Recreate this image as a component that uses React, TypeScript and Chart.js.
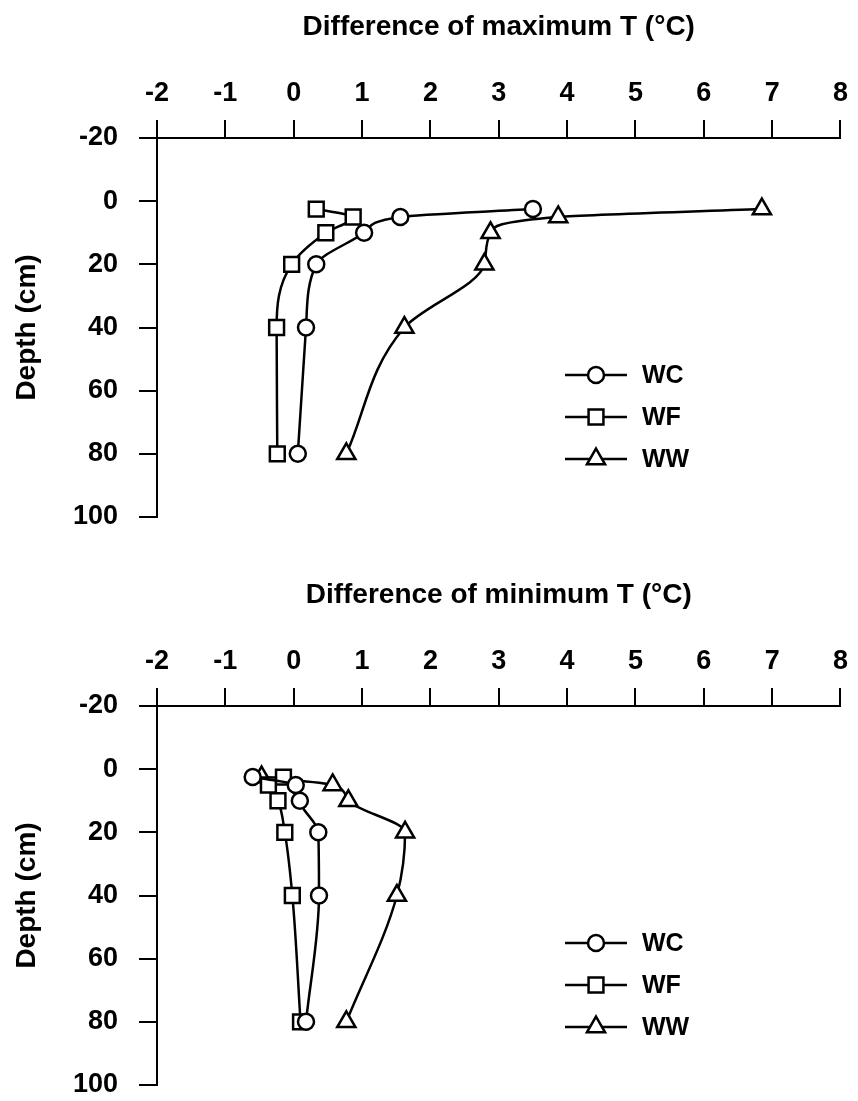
import React, { useEffect, useRef } from "react";
import { Chart, registerables } from "chart.js";

Chart.register(...registerables);

// ---- data ----
const depths = [2.5, 5, 10, 20, 40, 80];
const seriesNames = ["WC", "WF", "WW"];

const maxWC = [3.5, 1.56, 1.03, 0.33, 0.18, 0.06];
const maxWF = [0.33, 0.87, 0.47, -0.03, -0.25, -0.24];
const maxWW = [6.85, 3.87, 2.88, 2.79, 1.62, 0.77];

const minWC = [-0.6, 0.03, 0.09, 0.36, 0.37, 0.18];
const minWF = [-0.15, -0.37, -0.23, -0.13, -0.02, 0.1];
const minWW = [-0.47, 0.57, 0.8, 1.63, 1.51, 0.77];

const xTickMin = -2;
const xTickMax = 8;
const yTickMin = -20;
const yTickMax = 100;

const topTitle = "Difference of maximum T (\u00B0C)";
const bottomTitle = "Difference of minimum T (\u00B0C)";
const yTitle = "Depth (cm)";

const FONT = "'Liberation Sans', Arial, Helvetica, sans-serif";
const LW = 2.5;

function drawMarker(ctx: CanvasRenderingContext2D, style: string, r: number, x: number, y: number) {
  ctx.beginPath();
  if (style === "circle") {
    ctx.arc(x, y, r, 0, Math.PI * 2);
  } else if (style === "rect") {
    const s = Math.SQRT1_2 * r;
    ctx.rect(x - s, y - s, 2 * s, 2 * s);
  } else {
    const h = r;
    ctx.moveTo(x, y - h);
    ctx.lineTo(x + Math.cos(Math.PI / 6) * h, y + h / 2);
    ctx.lineTo(x - Math.cos(Math.PI / 6) * h, y + h / 2);
    ctx.closePath();
  }
  ctx.fillStyle = "#fff";
  ctx.fill();
  ctx.lineWidth = LW;
  ctx.strokeStyle = "#000";
  ctx.stroke();
}

const legendPlugin = {
  id: "insideLegend",
  afterDatasetsDraw(chart: any) {
    const ctx = chart.ctx as CanvasRenderingContext2D;
    const x0 = 565;
    const lineLen = 62;
    const y0 = 375;
    const dy = 42;
    chart.data.datasets.forEach((ds: any, i: number) => {
      const y = y0 + i * dy;
      ctx.save();
      ctx.strokeStyle = "#000";
      ctx.lineWidth = LW;
      ctx.beginPath();
      ctx.moveTo(x0, y);
      ctx.lineTo(x0 + lineLen, y);
      ctx.stroke();
      drawMarker(ctx, ds.pointStyle, ds.pointRadius, x0 + lineLen / 2, y);
      ctx.fillStyle = "#000";
      ctx.font = `bold 25px ${FONT}`;
      ctx.textAlign = "left";
      ctx.textBaseline = "middle";
      ctx.fillText(ds.label, x0 + lineLen + 15, y + 1);
      ctx.restore();
    });
  },
};

function makeConfig(title: string, wc: number[], wf: number[], ww: number[], padBottom: number): any {
  const styles = ["circle", "rect", "triangle"];
  const radii = [8, 10.5, 10.5];
  const vals = [wc, wf, ww];
  const datasets = seriesNames.map((name, k) => ({
    label: name,
    data: depths.map((d, i) => ({ x: vals[k][i], y: d })),
    pointStyle: styles[k],
    pointRadius: radii[k],
    pointHoverRadius: radii[k],
    pointBackgroundColor: "#fff",
    pointBorderColor: "#000",
    pointBorderWidth: LW,
    borderColor: "#000",
    backgroundColor: "#fff",
    borderWidth: LW,
    fill: false,
    cubicInterpolationMode: "monotone",
  }));
  const tickFont = { size: 27, weight: "bold", family: FONT };
  const titleFont = { size: 28, weight: "bold", family: FONT };
  return {
    type: "line",
    data: { datasets },
    options: {
      responsive: false,
      animation: false,
      indexAxis: "y",
      layout: { padding: { left: 0, top: 0, right: 12, bottom: padBottom } },
      plugins: { legend: { display: false }, tooltip: { enabled: false }, title: { display: false } },
      scales: {
        x: {
          type: "linear",
          position: "top",
          min: xTickMin,
          max: xTickMax,
          ticks: { stepSize: 1, color: "#000", font: tickFont, padding: 10, maxRotation: 0, autoSkip: false },
          grid: { display: true, drawOnChartArea: false, drawTicks: true, tickLength: 18, color: "#000", lineWidth: 2 },
          border: { display: true, color: "#000", width: 2 },
          title: { display: true, text: title, color: "#000", font: titleFont, padding: { top: 10, bottom: 0 } },
          afterFit: (s: any) => {
            s.height = 138;
          },
        },
        y: {
          type: "linear",
          reverse: true,
          min: yTickMin,
          max: yTickMax,
          ticks: { stepSize: 20, color: "#000", font: tickFont, padding: 21, autoSkip: false },
          grid: { display: true, drawOnChartArea: false, drawTicks: true, tickLength: 18, color: "#000", lineWidth: 2 },
          border: { display: true, color: "#000", width: 2 },
          title: { display: true, text: yTitle, color: "#000", font: titleFont, padding: { top: 10, bottom: 0 } },
          afterFit: (s: any) => {
            s.width = 157;
          },
        },
      },
    },
    plugins: [legendPlugin],
  };
}

function Panel(props: { top: number; height: number; title: string; wc: number[]; wf: number[]; ww: number[]; padBottom: number }) {
  const ref = useRef<HTMLCanvasElement | null>(null);
  useEffect(() => {
    if (!ref.current) return;
    const chart = new Chart(ref.current, makeConfig(props.title, props.wc, props.wf, props.ww, props.padBottom));
    return () => chart.destroy();
  }, []);
  return (
    <canvas
      ref={ref}
      width={858}
      height={props.height}
      style={{ position: "absolute", left: 0, top: props.top, width: 858, height: props.height, display: "block" }}
    />
  );
}

export default function App() {
  return (
    <div style={{ position: "absolute", left: 0, top: 0, width: 858, height: 1101, background: "#fff", overflow: "hidden" }}>
      <Panel top={0} height={560} title={topTitle} wc={maxWC} wf={maxWF} ww={maxWW} padBottom={43} />
      <Panel top={568} height={560} title={bottomTitle} wc={minWC} wf={minWF} ww={minWW} padBottom={43} />
    </div>
  );
}
